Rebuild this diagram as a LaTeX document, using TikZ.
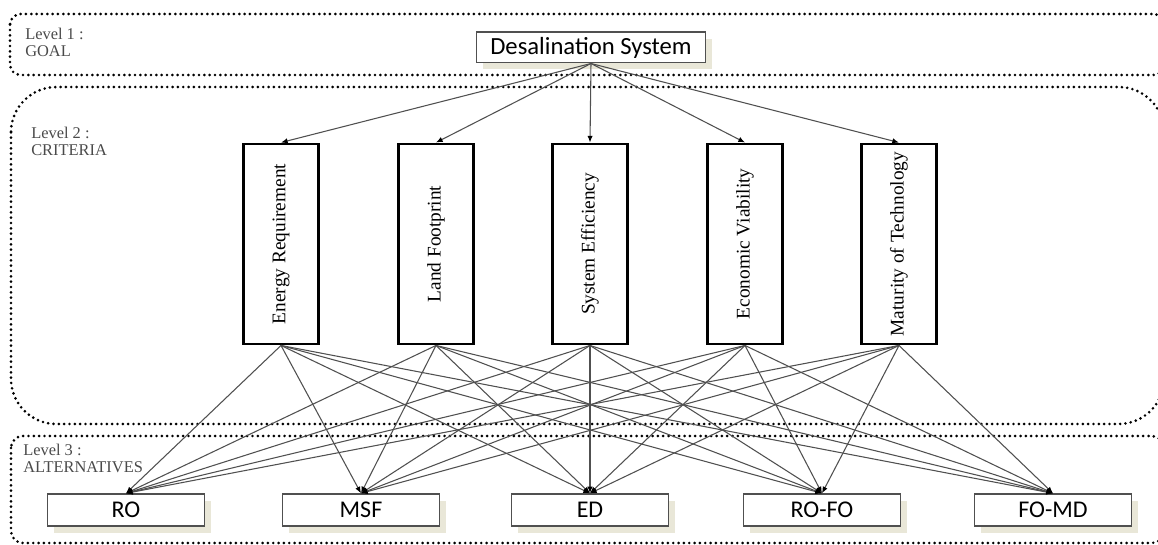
\documentclass[tikz,border=0pt]{standalone}
\usepackage{fontspec}
\setmainfont{Liberation Serif}
\newfontfamily\calib{Carlito}
\usetikzlibrary{shapes,positioning,calc,shadows,arrows.meta}
\definecolor{edgeGray}{HTML}{505050}
\definecolor{lblGray}{HTML}{4A4A4A}
\definecolor{shadowTan}{HTML}{E9E7D8}

\begin{document}
\begin{tikzpicture}
  [x=0.75pt,y=-0.75pt,
   lvlBox/.style={draw,line width=2.2pt,dash pattern=on 0pt off 4pt,line cap=round},
   lvlN/.style={anchor=north west,align=left,inner sep=0pt,text=lblGray,
     font=\fontsize{12.3}{12.5}\selectfont},
   boxN/.style={draw=edgeGray,line width=1pt,fill=white,
     drop shadow={shadow xshift=5pt,shadow yshift=-5pt,fill=shadowTan,opacity=1}},
   goalN/.style={boxN,minimum width=172pt,minimum height=23pt,font=\calib\fontsize{18.5}{20}\selectfont},
   altN/.style={boxN,minimum width=118pt,minimum height=24pt,font=\calib\fontsize{18}{20}\selectfont},
   critN/.style={draw,line width=2.2pt,fill=white,minimum width=56pt,minimum height=150pt,
     font=\fontsize{14.5}{16}\selectfont},
   link/.style={draw=edgeGray,line width=0.8pt,-{Latex[length=5pt,width=4pt,black]}},
  ]
 \useasboundingbox (0,0) rectangle (1158,545);

 % the three levels
 \draw[lvlBox,rounded corners=8pt] (10,14) rectangle (1164,75);
 \draw[lvlBox,rounded corners=34pt] (11,87) rectangle (1164,424);
 \draw[lvlBox,rounded corners=9pt] (11,436) rectangle (1164,543);

 \node[lvlN] (lvlGoal) at (25,28) {Level 1 :\\GOAL};
 \node[lvlN] (lvlCrit) at (31,127) {Level 2 :\\CRITERIA};
 \node[lvlN] (lvlAlt) at (23,444) {Level 3 :\\ALTERNATIVES};

 \node[goalN] (goal) at (591,47.5) {Desalination System};

 \node[critN] (energy) at (281,244) {\rotatebox{90}{Energy Requirement}};
 \node[critN] (land) at (436,244) {\rotatebox{90}{Land Footprint}};
 \node[critN] (sysEff) at (590,244) {\rotatebox{90}{System Efficiency}};
 \node[critN] (econ) at (745,244) {\rotatebox{90}{Economic Viability}};
 \node[critN] (maturity) at (899,244) {\rotatebox{90}{Maturity of Technology}};

 \node[altN] (ro) at (126,510) {RO};
 \node[altN] (msf) at (361,510) {MSF};
 \node[altN] (ed) at (590,510) {ED};
 \node[altN] (rofo) at (822,510) {RO-FO};
 \node[altN] (fomd) at (1053,510) {FO-MD};

 % goal to criteria, criteria to alternatives
 \foreach \c in {energy,land,sysEff,econ,maturity}
   \draw[link] (goal.south) -- (\c.north);
 \foreach \c in {energy,land,sysEff,econ,maturity}
   \foreach \a in {ro,msf,ed,rofo,fomd}
     \draw[link] (\c.south) -- (\a.north);
\end{tikzpicture}
\end{document}
